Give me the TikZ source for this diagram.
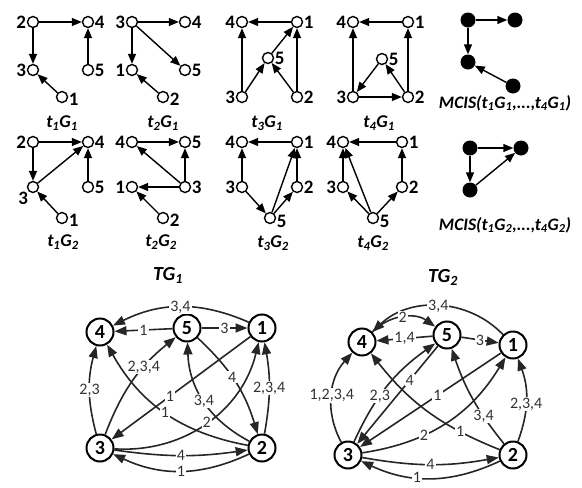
\documentclass[tikz,border=0pt]{standalone}
\usepackage{fontspec}
\setmainfont{Carlito}
\usetikzlibrary{arrows.meta}
\begin{document}
\begin{tikzpicture}[x=1pt,y=1pt,
 sn/.style={circle,draw,line width=1.4pt,minimum size=11pt,inner sep=0pt},
 mn/.style={circle,fill=black,minimum size=15pt,inner sep=0pt},
 sl/.style={font=\fontsize{19}{19}\selectfont\bfseries, inner sep=0.5pt},
 sa/.style={-{Triangle[length=10pt,width=8pt]}, line width=1.4pt},
 ttl/.style={font=\fontsize{18}{18}\selectfont\bfseries\itshape},
 mttl/.style={font=\fontsize{17.5}{18}\selectfont\bfseries\itshape},
 bn/.style={circle,draw,line width=2pt,minimum size=27pt,inner sep=0pt,font=\fontsize{20}{20}\selectfont\bfseries},
 ba/.style={-{Triangle[length=12pt,width=9pt]}, line width=1.6pt, draw=black!85},
 el/.style={fill=white,inner sep=1pt,font=\fontsize{16}{16}\selectfont, text=black!80},
]
\useasboundingbox (0,0) rectangle (582,-488);
% ---------- t1G1
\node[sn,label={[sl]left:2}] (a2) at (33,-22) {};
\node[sn,label={[sl]right:4}] (a4) at (88,-22) {};
\node[sn,label={[sl]left:3}] (a3) at (33,-70) {};
\node[sn,label={[sl]right:5}] (a5) at (88,-70) {};
\node[sn,label={[sl,yshift=-2pt]right:1}] (a1) at (62,-97) {};
\draw[sa] (a2) -- (a4); \draw[sa] (a2) -- (a3); \draw[sa] (a5) -- (a4); \draw[sa] (a1) -- (a3);
\node[ttl] (ta) at (62,-123) {t\textsubscript{1}G\textsubscript{1}};
% ---------- t2G1
\node[sn,label={[sl]left:3}] (b3) at (132,-22) {};
\node[sn,label={[sl]right:4}] (b4) at (185,-22) {};
\node[sn,label={[sl]left:1}] (b1) at (132,-70) {};
\node[sn,label={[sl]right:5}] (b5) at (185,-70) {};
\node[sn,label={[sl,yshift=-2pt]right:2}] (b2) at (163,-97) {};
\draw[sa] (b3) -- (b4); \draw[sa] (b3) -- (b1); \draw[sa] (b3) -- (b5); \draw[sa] (b2) -- (b1);
\node[ttl] (tb) at (163,-123) {t\textsubscript{2}G\textsubscript{1}};
% ---------- t3G1
\node[sn,label={[sl]left:4}] (c4) at (242,-22) {};
\node[sn,label={[sl]right:1}] (c1) at (297,-22) {};
\node[sn,label={[sl]right:5}] (c5) at (268,-58) {};
\node[sn,label={[sl]left:3}] (c3) at (242,-97) {};
\node[sn,label={[sl]right:2}] (c2) at (297,-97) {};
\draw[sa] (c1) -- (c4); \draw[sa] (c3) -- (c4); \draw[sa] (c3) -- (c5); \draw[sa] (c5) -- (c1);
\draw[sa] (c2) -- (c5); \draw[sa] (c2) -- (c1);
\node[ttl] (tc) at (267,-123) {t\textsubscript{3}G\textsubscript{1}};
% ---------- t4G1
\node[sn,label={[sl]left:4}] (d4) at (353,-22) {};
\node[sn,label={[sl]right:1}] (d1) at (408,-22) {};
\node[sn,label={[sl]right:5}] (d5) at (382,-59) {};
\node[sn,label={[sl]left:3}] (d3) at (353,-97) {};
\node[sn,label={[sl]right:2}] (d2) at (408,-97) {};
\draw[sa] (d1) -- (d4); \draw[sa] (d3) -- (d4); \draw[sa] (d5) -- (d3); \draw[sa] (d3) -- (d2);
\draw[sa] (d2) -- (d5); \draw[sa] (d2) -- (d1);
\node[ttl] (td) at (379,-123) {t\textsubscript{4}G\textsubscript{1}};
% ---------- t1G2
\node[sn,label={[sl]left:2}] (e2) at (33,-142) {};
\node[sn,label={[sl]right:4}] (e4) at (88,-142) {};
\node[sn,label={[sl]below left:3}] (e3) at (33,-187) {};
\node[sn,label={[sl]right:5}] (e5) at (88,-187) {};
\node[sn,label={[sl,yshift=-2pt]right:1}] (e1) at (62,-218) {};
\draw[sa] (e2) -- (e4); \draw[sa] (e2) -- (e3); \draw[sa] (e3) -- (e4); \draw[sa] (e5) -- (e4); \draw[sa] (e1) -- (e3);
\node[ttl] (te) at (63,-242) {t\textsubscript{1}G\textsubscript{2}};
% ---------- t2G2
\node[sn,label={[sl]left:4}] (f4) at (132,-142) {};
\node[sn,label={[sl]right:5}] (f5) at (185,-142) {};
\node[sn,label={[sl]left:1}] (f1) at (132,-187) {};
\node[sn,label={[sl]right:3}] (f3) at (185,-187) {};
\node[sn,label={[sl,yshift=-2pt]right:2}] (f2) at (163,-218) {};
\draw[sa] (f4) -- (f5); \draw[sa] (f3) -- (f5); \draw[sa] (f3) -- (f4); \draw[sa] (f3) -- (f1); \draw[sa] (f2) -- (f1);
\node[ttl] (tf) at (161,-242) {t\textsubscript{2}G\textsubscript{2}};
% ---------- t3G2
\node[sn,label={[sl]left:4}] (g4) at (242,-142) {};
\node[sn,label={[sl]right:1}] (g1) at (297,-142) {};
\node[sn,label={[sl]left:3}] (g3) at (242,-187) {};
\node[sn,label={[sl]right:2}] (g2) at (297,-187) {};
\node[sn,label={[sl,yshift=-3pt]right:5}] (g5) at (270,-218) {};
\draw[sa] (g1) -- (g4); \draw[sa] (g3) -- (g4); \draw[sa] (g3) -- (g5); \draw[sa] (g5) -- (g1);
\draw[sa] (g5) -- (g2); \draw[sa] (g2) -- (g1);
\node[ttl] (tg) at (273,-243) {t\textsubscript{3}G\textsubscript{2}};
% ---------- t4G2
\node[sn,label={[sl]left:4}] (h4) at (343,-142) {};
\node[sn,label={[sl]right:1}] (h1) at (402,-142) {};
\node[sn,label={[sl]left:3}] (h3) at (343,-187) {};
\node[sn,label={[sl]right:2}] (h2) at (402,-187) {};
\node[sn,label={[sl,yshift=-3pt]right:5}] (h5) at (373,-218) {};
\draw[sa] (h1) -- (h4); \draw[sa] (h3) -- (h4); \draw[sa] (h5) -- (h4); \draw[sa] (h5) -- (h3);
\draw[sa] (h5) -- (h2); \draw[sa] (h2) -- (h1);
\node[ttl] (th) at (373,-243) {t\textsubscript{4}G\textsubscript{2}};
% ---------- MCIS
\node[mn] (m1) at (468,-20) {};
\node[mn] (m2) at (515,-20) {};
\node[mn] (m3) at (468,-62) {};
\node[mn] (m4) at (513,-86) {};
\draw[sa] (m1) -- (m2); \draw[sa] (m1) -- (m3); \draw[sa] (m4) -- (m3);
\node[mttl] (tm) at (505,-103) {MCIS(t\textsubscript{1}G\textsubscript{1},...,t\textsubscript{4}G\textsubscript{1})};
\node[mn] (n1) at (470,-148) {};
\node[mn] (n2) at (521,-148) {};
\node[mn] (n3) at (470,-190) {};
\draw[sa] (n1) -- (n2); \draw[sa] (n1) -- (n3); \draw[sa] (n3) -- (n2);
\node[mttl] (tn) at (505,-225) {MCIS(t\textsubscript{1}G\textsubscript{2},...,t\textsubscript{4}G\textsubscript{2})};
% ---------- TG1
\node[ttl,font=\fontsize{20}{20}\selectfont\bfseries\itshape] (tp) at (168,-275) {TG\textsubscript{1}};
\node[bn] (p4) at (100,-332) {4};
\node[bn] (p5) at (187,-328) {5};
\node[bn] (p1) at (262,-328) {1};
\node[bn] (p3) at (100,-448) {3};
\node[bn] (p2) at (262,-448) {2};
\draw[ba] (p1) to[bend right=25] node[el]{3,4} (p4);
\draw[ba] (p5) -- node[el]{1} (p4);
\draw[ba] (p5) -- node[el]{3} (p1);
\draw[ba] (p3) to[bend left=15] node[el]{2,3} (p4);
\draw[ba] (p3) to[bend left=15] node[el,pos=.65]{2,3,4} (p5);
\draw[ba] (p1) -- node[el,pos=.58]{1} (p3);
\draw[ba] (p3) to[bend right=40] node[el,pos=.5]{2} (p1);
\draw[ba] (p2) to[bend left=25] node[el,pos=.5]{1} (p4);
\draw[ba] (p2) to[bend left=30] node[el,pos=.5]{3,4} (p5);
\draw[ba] (p5) to[bend left=15] node[el,pos=.45]{4} (p2);
\draw[ba] (p2) to[bend right=10] node[el]{2,3,4} (p1);
\draw[ba] (p3) to[bend right=8] node[el]{4} (p2);
\draw[ba] (p2) to[bend left=25] node[el]{1} (p3);
% ---------- TG2
\node[ttl,font=\fontsize{20}{20}\selectfont\bfseries\itshape] (tq) at (443,-277) {TG\textsubscript{2}};
\node[bn] (q4) at (362,-342) {4};
\node[bn] (q5) at (447,-335) {5};
\node[bn] (q1) at (513,-345) {1};
\node[bn] (q3) at (348,-455) {3};
\node[bn] (q2) at (513,-455) {2};
\draw[ba] (q1) to[bend right=45] node[el]{3,4} (q4);
\draw[ba] (q4) to[bend left=40] node[el]{2} (q5);
\draw[ba] (q5) -- node[el]{1,4} (q4);
\draw[ba] (q5) -- node[el]{3} (q1);
\draw[ba] (q3) to[bend left=35] node[el]{1,2,3,4} (q4);
\draw[ba] (q3) to[bend left=15] node[el,pos=.4]{2,3} (q5);
\draw[ba] (q5) -- node[el,pos=.35]{4} (q3);
\draw[ba] (q1) -- node[el,pos=.45]{1} (q3);
\draw[ba] (q3) to[bend right=25] node[el,pos=.35]{2} (q1);
\draw[ba] (q2) to[bend left=15] node[el,pos=.25]{1} (q4);
\draw[ba] (q2) to[bend left=10] node[el,pos=.3]{3,4} (q5);
\draw[ba] (q2) to[bend right=20] node[el,pos=.45]{2,3,4} (q1);
\draw[ba] (q3) to[bend right=10] node[el]{4} (q2);
\draw[ba] (q2) to[bend left=25] node[el,pos=.6]{1} (q3);
\end{tikzpicture}
\end{document}
